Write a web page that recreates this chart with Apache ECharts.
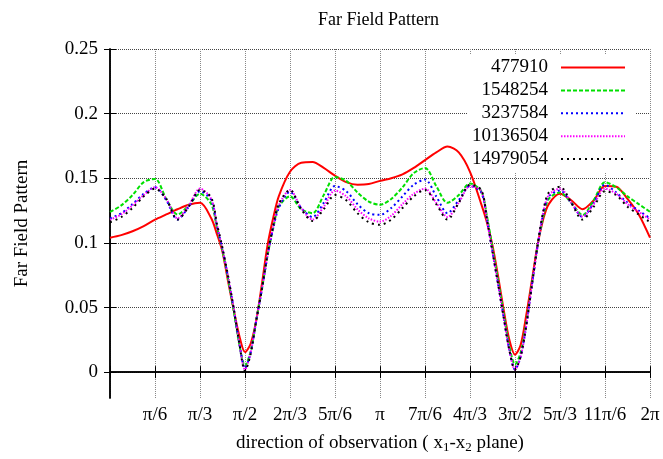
<!DOCTYPE html>
<html><head><meta charset="utf-8">
<script src="https://cdn.jsdelivr.net/npm/echarts@6/dist/echarts.min.js"></script>
<style>html,body{margin:0;padding:0;background:#fff}#c{width:663px;height:459px}</style>
</head><body><div id="c"></div>
<script>
// direction of observation, in degrees (0 .. 360 = 0 .. 2π)
const angles = [0,7.5,15,22.5,30,37.5,45,52.5,60,67.5,
  71.25,75,78.75,82.5,86.25,90,93.75,97.5,101.25,105,108.75,
  112.5,120,127.5,135,142.5,150,157.5,165,172.5,180,187.5,195,202.5,210,217.5,225,232.5,240,247.5,
  251.25,255,258.75,262.5,266.25,270,273.75,277.5,281.25,285,288.75,
  292.5,300,307.5,315,322.5,330,337.5,345,352.5,360];

const xTickLabels = ['', 'π/6', 'π/3', 'π/2', '2π/3', '5π/6', 'π', '7π/6', '4π/3', '3π/2', '5π/3', '11π/6', '2π'];
const yTicks = [0, 0.05, 0.1, 0.15, 0.2, 0.25];
const seriesNames = ['477910', '1548254', '3237584', '10136504', '14979054'];

const s477910 = [0.104,0.106,0.109,0.113,0.118,0.122,0.126,0.1295,0.131,0.119,
  0.107,0.093,0.070,0.048,0.028,0.0155,0.022,0.040,0.068,0.098,0.119,
  0.136,0.155,0.162,0.1625,0.158,0.152,0.147,0.145,0.1455,0.148,0.150,0.153,0.158,0.164,0.170,0.1745,0.170,0.155,0.130,
  0.116,0.098,0.074,0.048,0.025,0.0135,0.021,0.044,0.071,0.098,0.118,
  0.130,0.138,0.133,0.126,0.133,0.144,0.1435,0.134,0.122,0.104];

const s1548254 = [0.124,0.129,0.137,0.147,0.1495,0.134,0.122,0.129,0.138,0.130,
  0.112,0.094,0.072,0.047,0.021,0.005,0.016,0.040,0.064,0.090,0.111,
  0.128,0.136,0.126,0.123,0.137,0.151,0.148,0.139,0.132,0.1295,0.134,0.143,0.154,0.158,0.144,0.131,0.137,0.146,0.140,
  0.121,0.096,0.071,0.045,0.020,0.006,0.015,0.038,0.068,0.097,0.120,
  0.134,0.139,0.131,0.1215,0.133,0.147,0.143,0.136,0.130,0.124];

const s3237584 = [0.119,0.123,0.130,0.138,0.143,0.133,0.118,0.128,0.140,0.133,
  0.113,0.095,0.073,0.049,0.022,0.003,0.015,0.040,0.064,0.090,0.111,
  0.127,0.1395,0.127,0.120,0.131,0.144,0.140,0.130,0.123,0.1217,0.127,0.136,0.145,0.149,0.136,0.123,0.133,0.144,0.139,
  0.118,0.093,0.068,0.042,0.017,0.002,0.012,0.036,0.067,0.097,0.122,
  0.136,0.1405,0.131,0.120,0.131,0.145,0.139,0.131,0.125,0.119];

const s10136504 = [0.118,0.122,0.129,0.137,0.143,0.134,0.119,0.129,0.142,0.134,
  0.114,0.095,0.074,0.049,0.022,0.002,0.015,0.040,0.064,0.090,0.112,
  0.129,0.141,0.127,0.118,0.128,0.1405,0.136,0.126,0.119,0.1165,0.121,0.130,0.138,0.142,0.131,0.120,0.131,0.144,0.140,
  0.118,0.093,0.068,0.042,0.017,0.002,0.012,0.036,0.067,0.097,0.123,
  0.137,0.142,0.131,0.1205,0.130,0.142,0.138,0.130,0.124,0.118];

const s14979054 = [0.116,0.120,0.127,0.136,0.142,0.134,0.118,0.128,0.141,0.135,
  0.115,0.096,0.074,0.049,0.022,0.001,0.014,0.040,0.064,0.091,0.113,
  0.130,0.141,0.126,0.117,0.126,0.137,0.133,0.123,0.116,0.114,0.118,0.127,0.136,0.141,0.130,0.118,0.131,0.145,0.141,
  0.119,0.093,0.068,0.042,0.017,0.002,0.012,0.036,0.067,0.098,0.124,
  0.139,0.1435,0.131,0.118,0.128,0.140,0.137,0.128,0.122,0.116];

const seriesValues = [s477910, s1548254, s3237584, s10136504, s14979054];

const FONT = 'Liberation Serif';
const lineStyles = [
  {color: '#ff0000', type: 'solid'},
  {color: '#00e000', type: [4, 2]},
  {color: '#0000ff', type: [2, 3]},
  {color: '#ff00ff', type: [1.5, 1.5]},
  {color: '#000000', type: [2, 4]}
];

const chart = echarts.init(document.getElementById('c'), null, {renderer: 'canvas'});
const axisLineStyle = {lineStyle: {color: '#000', width: 1.5}};
const tickStyle = {show: true, inside: true, length: 6, lineStyle: {color: '#000', width: 1}};

chart.setOption({
  animation: false,
  backgroundColor: '#fff',
  title: {
    text: 'Far Field Pattern', left: 318, top: 11, padding: 0,
    textStyle: {fontFamily: FONT, fontSize: 18, fontWeight: 'normal', color: '#000'}
  },
  grid: {left: 110, right: 13, top: 49, bottom: 61, containLabel: false},
  legend: {
    data: seriesNames, orient: 'vertical', align: 'right', right: 27, top: 54,
    itemWidth: 64, itemHeight: 14, itemGap: 3.9, selectedMode: false,
    backgroundColor: '#fff', padding: [4, 10, 4, 4], z: 1,
    itemStyle: {opacity: 0},
    textStyle: {fontFamily: FONT, fontSize: 19, color: '#000', lineHeight: 18, padding: [0, 8, 0, 0]}
  },
  xAxis: [{
    type: 'value', min: 0, max: 360, interval: 30, position: 'bottom',
    axisLine: axisLineStyle, axisTick: tickStyle,
    axisLabel: {formatter: v => xTickLabels[Math.round(v / 30)], margin: 8, fontFamily: FONT, fontSize: 19, color: '#000'},
    splitLine: {show: true, lineStyle: {type: 'dotted', color: '#888', width: 1}},
    name: '{a|direction of observation ( x}{s|1}{a|-x}{s|2}{a| plane)}',
    nameLocation: 'middle', nameGap: 34,
    nameTextStyle: {rich: {
      a: {fontFamily: FONT, fontSize: 19, color: '#000'},
      s: {fontFamily: FONT, fontSize: 13, color: '#000', padding: [9, 0, 0, 0]}
    }}
  }, {
    type: 'value', min: 0, max: 360, interval: 30, position: 'top',
    axisLine: axisLineStyle, axisTick: tickStyle, axisLabel: {show: false}, splitLine: {show: false}
  }],
  yAxis: [{
    type: 'value', min: -0.02, max: 0.25, position: 'left',
    axisLine: axisLineStyle,
    axisTick: Object.assign({customValues: yTicks}, tickStyle),
    axisLabel: {customValues: yTicks, margin: 12, fontFamily: FONT, fontSize: 19, color: '#000'},
    splitLine: {show: true, lineStyle: {type: 'dotted', color: '#444', width: 1}},
    name: 'Far Field Pattern', nameLocation: 'middle', nameGap: 78,
    nameTextStyle: {fontFamily: FONT, fontSize: 19, color: '#000'}
  }, {
    type: 'value', min: -0.02, max: 0.25, position: 'right',
    axisLine: axisLineStyle,
    axisTick: Object.assign({customValues: yTicks}, tickStyle),
    axisLabel: {show: false}, splitLine: {show: false}
  }],
  series: seriesNames.map((n, i) => ({
    name: n, type: 'line', xAxisIndex: 0, yAxisIndex: 0,
    data: angles.map((a, j) => [a, seriesValues[i][j]]),
    showSymbol: false, symbol: 'none', smooth: 0.3,
    lineStyle: {color: lineStyles[i].color, width: 2, type: lineStyles[i].type},
    itemStyle: {color: lineStyles[i].color},
    z: 2 + i
  }))
});
</script>
</body></html>
